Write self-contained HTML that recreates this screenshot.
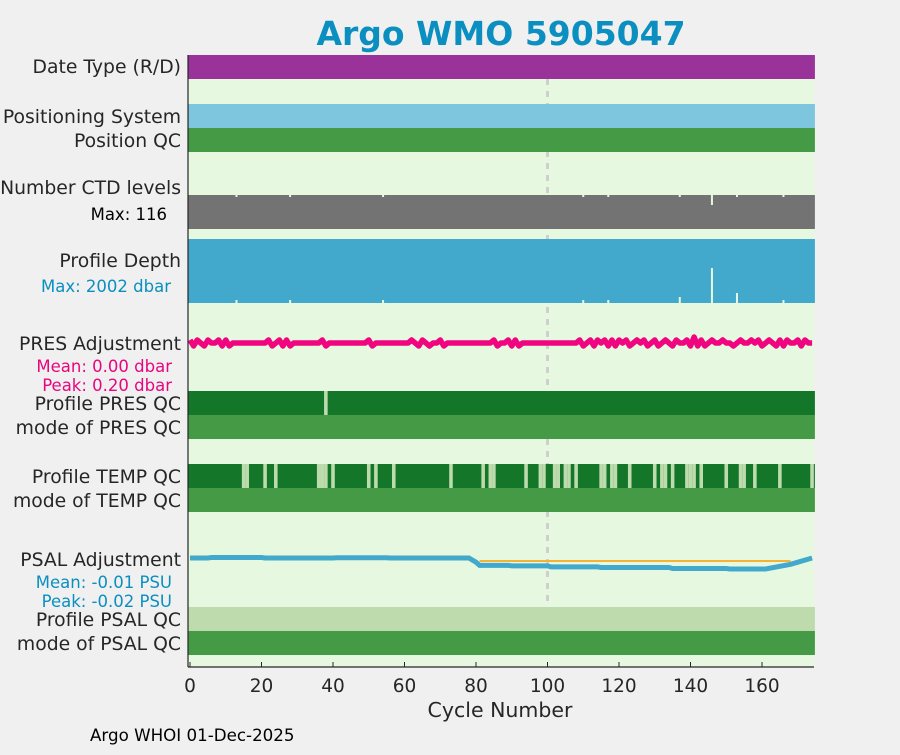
<!DOCTYPE html>
<html><head><meta charset="utf-8"><style>
body{margin:0;background:#f0f0f0;}
svg text{font-family:"DejaVu Sans","Liberation Sans",sans-serif;}
</style></head><body>
<svg id="chart" width="900" height="750" viewBox="0 0 900 750" xmlns="http://www.w3.org/2000/svg">
<rect x="0" y="0" width="900" height="750" fill="#f0f0f0"/>
<text x="501" y="45" text-anchor="middle" font-size="33" font-weight="bold" fill="#0a8fc0">Argo WMO 5905047</text>
<rect x="188" y="55" width="626" height="612" fill="#e6f9e0"/>
<g id="marks"></g>
<g font-size="18.8" fill="#262626" text-anchor="end">
<text x="181" y="73">Date Type (R/D)</text>
<text x="181" y="123">Positioning System</text>
<text x="181" y="147">Position QC</text>
<text x="181" y="194">Number CTD levels</text>
<text x="167" y="220" font-size="16.5" fill="#000">Max: 116</text>
<text x="181" y="267">Profile Depth</text>
<text x="171" y="292" font-size="16.5" fill="#0a8fc0">Max: 2002 dbar</text>
<text x="181" y="350">PRES Adjustment</text>
<text x="172" y="372" font-size="16.5" fill="#e8057f">Mean: 0.00 dbar</text>
<text x="172" y="391" font-size="16.5" fill="#e8057f">Peak: 0.20 dbar</text>
<text x="181" y="410">Profile PRES QC</text>
<text x="181" y="434">mode of PRES QC</text>
<text x="181" y="483">Profile TEMP QC</text>
<text x="181" y="507">mode of TEMP QC</text>
<text x="181" y="566">PSAL Adjustment</text>
<text x="172" y="588" font-size="16.5" fill="#0a8fc0">Mean: -0.01 PSU</text>
<text x="172" y="607" font-size="16.5" fill="#0a8fc0">Peak: -0.02 PSU</text>
<text x="181" y="626">Profile PSAL QC</text>
<text x="181" y="650">mode of PSAL QC</text>
</g>
<line x1="188" y1="55" x2="188" y2="667" stroke="#262626" stroke-width="1.2"/>
<line x1="188" y1="667" x2="814" y2="667" stroke="#262626" stroke-width="1.2"/>
<g id="xticks" font-size="18.5" fill="#262626" text-anchor="middle"></g>
<text x="500" y="717" text-anchor="middle" font-size="20.5" fill="#262626">Cycle Number</text>
<text x="90" y="741" font-size="16.7" fill="#000">Argo WHOI 01-Dec-2025</text>
</svg>
<script>
const xTicks=[0,20,40,60,80,100,120,140,160];
const nCycles=175;
const tempQcBad=[15,16,21,24,36,37,38,40,50,52,57,73,82,84,85,94,98,99,102,103,105,106,108,115,116,118,119,123,130,132,133,135,139,140,141,143,150,154,155,158,165,174];
const presQcBad=[38];
const ctdMissing=[13,28,54,110,117,137,146,153,166];
const ctdMissingDepth=[2,2,2,2,2,2,10,2,2];
const depthMissing=[13,28,54,110,117,137,146,153,166];
const depthMissingHeight=[3,3,3,3,3,6,35,10,3];
const presAdj=[0.1,-0.1,0.1,0,-0.1,0.1,0,0,0.1,-0.1,
0.1,-0.1,0,0,0,0,0,0,0,0,
0,0,0.1,-0.1,0,0.1,-0.1,0.1,-0.1,0,
0,0,0,0,0,0,0,0.1,-0.1,0,
0,0,0,0,0,0,0,0,0,0,
0.1,-0.1,0,0,0,0,0,0,0,0,
0,0,0.1,0,-0.1,0.1,0,-0.1,0,0,
0.1,-0.1,0,0,0,0,0,0,0,0,
0,0,0,0,0,0.1,-0.1,0,0,0.1,
-0.1,0.1,-0.1,0,0,0,0,0,0,0,
0,0,0,0,0,0,0,0,0,0.1,
-0.1,0,0.1,-0.1,0.1,0,0.1,-0.1,0.1,-0.1,
0.1,0,0.1,-0.1,0,0.1,0,0.1,-0.1,0,
0.1,-0.1,0,0.1,0,-0.1,0.1,0,0,0.1,
-0.1,0.2,-0.1,0.1,-0.1,0,0.1,0,0,0.1,
0,0,-0.1,0,0.1,0,0,0.1,0,0.1,
-0.1,0,0.1,0,-0.1,0.1,-0.1,0.1,0,0,
0.1,-0.1,0.1,0,0];
const psalCycles=[0,5,6,20,21,40,41,55,56,78,80,81,89,90,100,101,114,115,134,135,150,151,161,168,174];
const psalAdj=[0,0,0.0005,0.0005,0,0,0.0003,0.0003,0,0,-0.004,-0.007,-0.007,-0.0075,-0.0075,-0.0085,-0.0085,-0.009,-0.009,-0.010,-0.010,-0.0105,-0.0105,-0.006,0];
const psalRef=-0.0028;
const psalRefStart=81, psalRefEnd=168;

const NS='http://www.w3.org/2000/svg';
const X0=190, XS=3.575;
function x(c){return X0+c*XS;}
function yPres(v){return 343-v*30;}
function yPsal(v){return 558-v*1050;}
const g=document.getElementById('marks');
function el(tag,attrs,parent){const e=document.createElementNS(NS,tag);for(const k in attrs)e.setAttribute(k,attrs[k]);(parent||g).appendChild(e);return e;}
// dashed line at 100 (behind bands)
const dl=el('line',{x1:x(100),y1:55,x2:x(100),y2:605,stroke:'#cfcfcf','stroke-width':3,'stroke-dasharray':'6 6'});


function band(y,h,color,name){const r=el('rect',{x:x(-0.5),y:y,width:x(nCycles-0.2)-x(-0.5),height:h,fill:color});

}
band(55,24,'#993399','date-type-band');
band(104,24,'#7ec5de','positioning-system-band');
band(128,24,'#459a45','position-qc-band');
band(195,34,'#737373','ctd-levels-band');
band(239,64,'#42a9cd','profile-depth-band');
band(391,24,'#137628','pres-qc-band');
band(415,24,'#459a45','mode-pres-qc-band');
band(464,24,'#137628','temp-qc-band');
band(488,24,'#459a45','mode-temp-qc-band');
band(607,24,'#bddbad','psal-qc-band');
band(631,24,'#459a45','mode-psal-qc-band');
ctdMissing.forEach((c,i)=>{const r=el('rect',{x:x(c)-1,y:195,width:2,height:ctdMissingDepth[i],fill:'#e6f9e0'});

});
depthMissing.forEach((c,i)=>{const r=el('rect',{x:x(c)-1,y:303-depthMissingHeight[i],width:2,height:depthMissingHeight[i],fill:'#e6f9e0'});

});
presQcBad.forEach(c=>{const r=el('rect',{x:x(c-0.5),y:391,width:XS,height:24,fill:'#bddbad'});

});
tempQcBad.forEach(c=>{const r=el('rect',{x:x(c-0.5),y:464,width:XS,height:24,fill:'#bddbad'});

});
// pres line
const pp=presAdj.map((v,i)=>x(i).toFixed(1)+','+yPres(v).toFixed(1)).join(' ');
const pl=el('polyline',{points:pp,fill:'none',stroke:'#f0047f','stroke-width':5.5,'stroke-linejoin':'round'});


// psal ref line
const rl=el('line',{x1:x(psalRefStart),y1:yPsal(psalRef),x2:x(psalRefEnd),y2:yPsal(psalRef),stroke:'#f5b335','stroke-width':2});


const sp=psalCycles.map((c,i)=>x(c).toFixed(1)+','+yPsal(psalAdj[i]).toFixed(1)).join(' ');
const sl=el('polyline',{points:sp,fill:'none',stroke:'#42a9cd','stroke-width':5});


const xt=document.getElementById('xticks');
xTicks.forEach(t=>{const l=el('line',{x1:x(t),y1:667,x2:x(t),y2:662,stroke:'#262626','stroke-width':1},xt);


const tx=el('text',{x:x(t),y:692},xt);tx.textContent=t;

});
</script>
</body></html>
